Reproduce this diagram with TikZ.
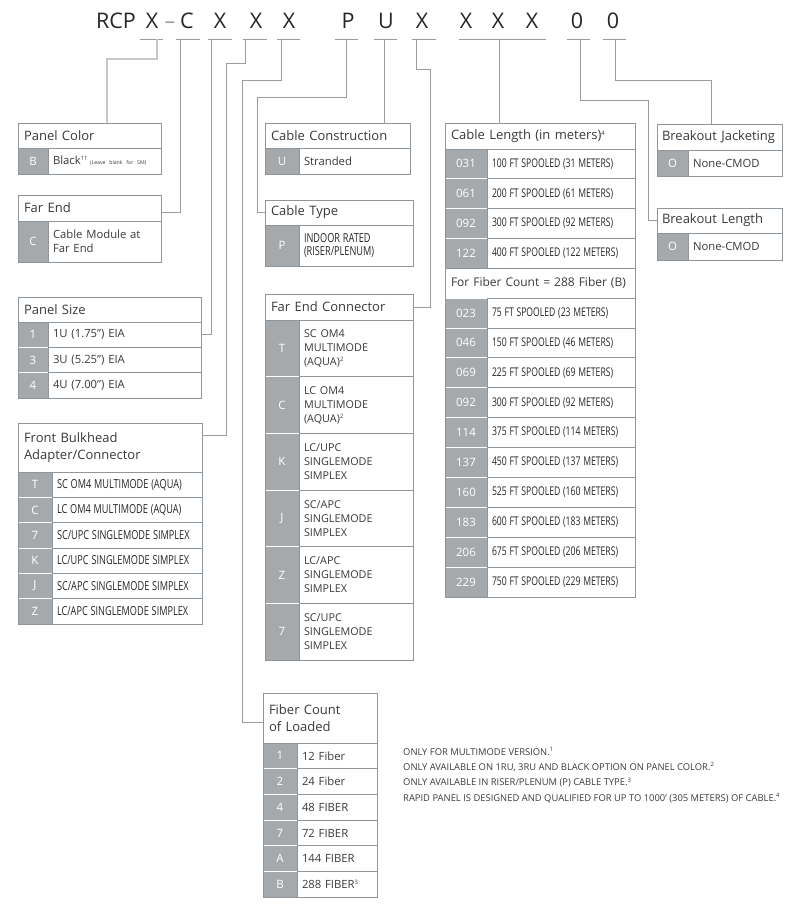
\documentclass[tikz,border=0pt]{standalone}
\usepackage{fontspec}
\usepackage{graphicx}
\setmainfont{Open Sans}
\definecolor{bcol}{HTML}{8E959B}
\definecolor{tcol}{HTML}{3A3A3A}
\definecolor{ccol}{HTML}{A6A9AC}
\definecolor{lcol}{HTML}{9C9C9C}
\definecolor{llcol}{HTML}{C8C8C8}
\newcommand\hdrf{\fontsize{13}{17}\selectfont}
\newcommand\itmf{\fontsize{11.3}{14}\selectfont}
\newcommand\cnd[1]{\scalebox{0.72}[1]{\fontsize{12}{14}\selectfont\color{black!85}#1}}
\newcommand\cndb[1]{\scalebox{0.74}[1]{\fontsize{12.4}{14}\selectfont\color{black!85}#1}}
\newcommand\codf{\fontsize{11.5}{14}\selectfont}
\newcommand\capf{\fontsize{10.8}{14}\selectfont}
\newcommand\notef{\fontsize{9.4}{15.3}\selectfont}
\newcommand\sups[1]{\textsuperscript{\fontsize{6}{6}\selectfont #1}}
\tikzset{
  codecell/.style={anchor=north west, inner sep=0pt, outer sep=0pt, fill=ccol, draw=white, line width=0.8pt, text=white, font=\codf},
  itemcell/.style={anchor=north west, inner xsep=5pt, inner ysep=0pt, outer sep=0pt, fill=white, draw=bcol, line width=0.8pt, text=tcol, align=left, font=\itmf},
  hdrcell/.style={anchor=north west, inner xsep=6pt, inner ysep=0pt, outer sep=0pt, fill=white, draw=bcol, line width=0.8pt, text=tcol, align=left, font=\hdrf},
  boxline/.style={draw=bcol, line width=0.9pt},
  link/.style={draw=lcol, line width=0.9pt},
  lightlink/.style={draw=llcol, line width=1.1pt},
  slot/.style={draw=lcol, line width=0.9pt},
  letter/.style={anchor=base, inner sep=0pt, text=black!85, font=\fontsize{21.5}{24}\selectfont},
}
% name x y codewidth totalwidth height code text
\newcommand\optrow[8]{%
  \pgfmathsetmacro\optw{#5-#4-10}%
  \node[codecell, minimum width=#4pt, minimum height=#6pt] (#1c) at (#2,#3) {#7};
  \node[itemcell, minimum height=#6pt, text width=\optw pt] (#1t) at (#2+#4,#3) {#8};
}
% name x y width height text
\newcommand\opthdr[6]{%
  \pgfmathsetmacro\optw{#4-12}%
  \node[hdrcell, minimum width=#4pt, minimum height=#5pt, text width=\optw pt] (#1) at (#2,#3) {#6};
}
\begin{document}
\begin{tikzpicture}[x=1pt,y=-1pt]
\useasboundingbox[fill=white] (0,0) rectangle (805,906);

% ---------- part number ----------
\node[letter] (hRCP) at (116,28) {RCP};
\node[letter] (hX1) at (152,28) {X};
\node[letter, text=lcol] (hDash) at (170,28) {–};
\node[letter] (hC) at (187,28) {C};
\node[letter] (hX2) at (220,28) {X};
\node[letter] (hX3) at (256,28) {X};
\node[letter] (hX4) at (289,28) {X};
\node[letter] (hP) at (348,28) {P};
\node[letter] (hU) at (386,28) {U};
\node[letter] (hX5) at (422,28) {X};
\node[letter] (hX6) at (466,28) {X};
\node[letter] (hX7) at (498,28) {X};
\node[letter] (hX8) at (532,28) {X};
\node[letter] (hZa) at (577,28) {0};
\node[letter] (hZb) at (613,28) {0};

% slot underlines
\coordinate (uX1a) at (140,39); \coordinate (uX1b) at (163,39);
\coordinate (uCa) at (176,39);  \coordinate (uCb) at (200,39);
\coordinate (uX2a) at (208,39); \coordinate (uX2b) at (232,39);
\coordinate (uX3a) at (243,39); \coordinate (uX3b) at (267,39);
\coordinate (uX4a) at (277,39); \coordinate (uX4b) at (300,39);
\coordinate (uPa) at (335,39);  \coordinate (uPb) at (358,39);
\coordinate (uUa) at (374,39);  \coordinate (uUb) at (397,39);
\coordinate (uX5a) at (412,39); \coordinate (uX5b) at (436,39);
\coordinate (uLa) at (459,39);  \coordinate (uLb) at (546,39);
\coordinate (uZaa) at (567,39); \coordinate (uZab) at (590,39);
\coordinate (uZba) at (603,39); \coordinate (uZbb) at (626,39);
\foreach \s in {X1,C,X2,X3,X4,P,U,X5,L,Za,Zb}
  \draw[slot] (u\s a) -- (u\s b);

% connector start points
\coordinate (sX1) at (157,39);
\coordinate (sC) at (180,39);
\coordinate (sX2) at (211,39);
\coordinate (sX3) at (245,39);
\coordinate (sX4) at (281,39);
\coordinate (sP) at (346,39);
\coordinate (sU) at (384,39);
\coordinate (sX5) at (416,39);
\coordinate (sL) at (499,39);
\coordinate (sZa) at (580,39);
\coordinate (sZb) at (615,39);
% turn points
\coordinate (kX1) at (107,59);
\coordinate (kX3) at (226,63);
\coordinate (kX4) at (242,80);
\coordinate (kP) at (257,97);
\coordinate (kX5) at (430,69);
\coordinate (kZa) at (648,100);
\coordinate (kZb) at (711,80);

% ---------- Panel Color ----------
\optrow{pc1}{18}{148}{30}{143}{26}{B}{Black\sups{11}\,{\fontsize{5.2}{6}\selectfont (Leave blank for SM)}}
\opthdr{pch}{18}{123}{143}{25}{Panel Color}
\draw[boxline] (pch.north west) rectangle (pc1t.south east);

% ---------- Far End ----------
\optrow{fe1}{18}{221}{30}{143}{41}{C}{Cable Module at\\Far End}
\opthdr{feh}{18}{195}{143}{26}{Far End}
\draw[boxline] (feh.north west) rectangle (fe1t.south east);

% ---------- Panel Size ----------
\optrow{ps1}{18}{322}{30}{183}{25.3}{1}{1U (1.75”) EIA}
\optrow{ps2}{18}{347.3}{30}{183}{25.3}{3}{3U (5.25”) EIA}
\optrow{ps3}{18}{372.6}{30}{183}{25.4}{4}{4U (7.00”) EIA}
\opthdr{psh}{18}{297}{183}{25}{Panel Size}
\draw[boxline] (psh.north west) rectangle (ps3t.south east);

% ---------- Front Bulkhead ----------
\optrow{fb1}{18}{472}{34}{184}{25.3}{T}{\cndb{SC OM4 MULTIMODE (AQUA)}}
\optrow{fb2}{18}{497.3}{34}{184}{25.3}{C}{\cndb{LC OM4 MULTIMODE (AQUA)}}
\optrow{fb3}{18}{522.6}{34}{184}{25.3}{7}{\cndb{SC/UPC SINGLEMODE SIMPLEX}}
\optrow{fb4}{18}{547.9}{34}{184}{25.3}{K}{\cndb{LC/UPC SINGLEMODE SIMPLEX}}
\optrow{fb5}{18}{573.2}{34}{184}{25.3}{J}{\cndb{SC/APC SINGLEMODE SIMPLEX}}
\optrow{fb6}{18}{598.5}{34}{184}{25.5}{Z}{\cndb{LC/APC SINGLEMODE SIMPLEX}}
\opthdr{fbh}{18}{423}{184}{49}{Front Bulkhead\\Adapter/Connector}
\draw[boxline] (fbh.north west) rectangle (fb6t.south east);

% ---------- Cable Construction ----------
\optrow{cc1}{265}{148}{34}{145}{26}{U}{Stranded}
\opthdr{cch}{265}{123}{145}{25}{Cable Construction}
\draw[boxline] (cch.north west) rectangle (cc1t.south east);

% ---------- Cable Type ----------
\optrow{ct1}{265}{225}{34}{148}{41}{P}{\cndb{INDOOR RATED}\\[-1pt]\cndb{(RISER/PLENUM)}}
\opthdr{cth}{265}{200}{148}{25}{Cable Type}
\draw[boxline] (cth.north west) rectangle (ct1t.south east);

% ---------- Far End Connector ----------
\optrow{fc1}{265}{320}{34}{148}{56.7}{T}{\capf SC OM4\\MULTIMODE\\(AQUA)\sups{2}}
\optrow{fc2}{265}{376.7}{34}{148}{56.7}{C}{\capf LC OM4\\MULTIMODE\\(AQUA)\sups{2}}
\optrow{fc3}{265}{433.4}{34}{148}{56.7}{K}{\capf LC/UPC\\SINGLEMODE\\SIMPLEX}
\optrow{fc4}{265}{490.1}{34}{148}{56.7}{J}{\capf SC/APC\\SINGLEMODE\\SIMPLEX}
\optrow{fc5}{265}{546.8}{34}{148}{56.6}{Z}{\capf LC/APC\\SINGLEMODE\\SIMPLEX}
\optrow{fc6}{265}{603.4}{34}{148}{56.6}{7}{\capf SC/UPC\\SINGLEMODE\\SIMPLEX}
\opthdr{fch}{265}{294}{148}{26}{Far End Connector}
\draw[boxline] (fch.north west) rectangle (fc6t.south east);

% ---------- Fiber Count ----------
\optrow{fn1}{263}{743}{34}{114}{25.7}{1}{12 Fiber}
\optrow{fn2}{263}{768.7}{34}{114}{25.7}{2}{24 Fiber}
\optrow{fn3}{263}{794.4}{34}{114}{25.7}{4}{48 FIBER}
\optrow{fn4}{263}{820.1}{34}{114}{25.7}{7}{72 FIBER}
\optrow{fn5}{263}{845.8}{34}{114}{25.6}{A}{144 FIBER}
\optrow{fn6}{263}{871.4}{34}{114}{25.6}{B}{288 FIBER\sups{3}}
\opthdr{fnh}{263}{693}{114}{50}{Fiber Count\\of Loaded}
\draw[boxline] (fnh.north west) rectangle (fn6t.south east);

% ---------- Cable Length ----------
\optrow{cl1}{445}{149}{42}{190}{29.75}{031}{\cnd{100 FT SPOOLED (31 METERS)}}
\optrow{cl2}{445}{178.75}{42}{190}{29.75}{061}{\cnd{200 FT SPOOLED (61 METERS)}}
\optrow{cl3}{445}{208.5}{42}{190}{29.75}{092}{\cnd{300 FT SPOOLED (92 METERS)}}
\optrow{cl4}{445}{238.25}{42}{190}{29.75}{122}{\cnd{400 FT SPOOLED (122 METERS)}}
\node[hdrcell, font=\fontsize{12}{14}\selectfont, minimum width=190pt, minimum height=30pt, text width=178pt] (clsub) at (445,268) {For Fiber Count = 288 Fiber (B)};
\optrow{cl5}{445}{298}{42}{190}{29.9}{023}{\cnd{75 FT SPOOLED (23 METERS)}}
\optrow{cl6}{445}{327.9}{42}{190}{29.9}{046}{\cnd{150 FT SPOOLED (46 METERS)}}
\optrow{cl7}{445}{357.8}{42}{190}{29.9}{069}{\cnd{225 FT SPOOLED (69 METERS)}}
\optrow{cl8}{445}{387.7}{42}{190}{29.9}{092}{\cnd{300 FT SPOOLED (92 METERS)}}
\optrow{cl9}{445}{417.6}{42}{190}{29.9}{114}{\cnd{375 FT SPOOLED (114 METERS)}}
\optrow{cl10}{445}{447.5}{42}{190}{29.9}{137}{\cnd{450 FT SPOOLED (137 METERS)}}
\optrow{cl11}{445}{477.4}{42}{190}{29.9}{160}{\cnd{525 FT SPOOLED (160 METERS)}}
\optrow{cl12}{445}{507.3}{42}{190}{29.9}{183}{\cnd{600 FT SPOOLED (183 METERS)}}
\optrow{cl13}{445}{537.2}{42}{190}{29.9}{206}{\cnd{675 FT SPOOLED (206 METERS)}}
\optrow{cl14}{445}{567.1}{42}{190}{29.9}{229}{\cnd{750 FT SPOOLED (229 METERS)}}
\opthdr{clh}{445}{123}{190}{26}{Cable Length (in meters)\sups{4}}
\draw[boxline] (clh.north west) rectangle (cl14t.south east);

% ---------- Breakout Jacketing ----------
\optrow{bj1}{657}{150}{31}{125}{26}{O}{None-CMOD}
\opthdr{bjh}{657}{124}{125}{26}{\mbox{\hspace{-1pt}Breakout Jacketing}}
\draw[boxline] (bjh.north west) rectangle (bj1t.south east);

% ---------- Breakout Length ----------
\optrow{bl1}{657}{233}{31}{125}{27}{O}{None-CMOD}
\opthdr{blh}{657}{208}{125}{25}{\mbox{\hspace{-1pt}Breakout Length}}
\draw[boxline] (blh.north west) rectangle (bl1t.south east);

% ---------- connectors ----------
\draw[lightlink] (sX1) |- (kX1) -- (kX1 |- pch.north);
\draw[link] (sC) |- ([yshift=-4pt]feh.east);
\draw[link] (sX2) |- (ps1t.east);
\draw[link] (sX3) |- (kX3) |- ([yshift=12.5pt]fbh.east);
\draw[link] (sX4) |- (kX4) |- ([yshift=-4pt]fnh.west);
\draw[link] (sP) |- (kP) |- (cth.west);
\draw[link] (sU) -- (sU |- cch.north);
\draw[link] (sX5) |- (kX5) |- (fch.east);
\draw[link] (sL) -- (sL |- clh.north);
\draw[link] (sZa) |- (kZa) |- (blh.west);
\draw[link] (sZb) |- (kZb) -- (kZb |- bjh.north);

% ---------- notes ----------
\node[anchor=north west, inner sep=0pt, align=left, text=tcol, font=\notef] (notes) at (403,747) {%
ONLY FOR MULTIMODE VERSION.\sups{1}\\
ONLY AVAILABLE ON 1RU, 3RU AND BLACK OPTION ON PANEL COLOR.\sups{2}\\
ONLY AVAILABLE IN RISER/PLENUM (P) CABLE TYPE.\sups{3}\\
RAPID PANEL IS DESIGNED AND QUALIFIED FOR UP TO 1000’ (305 METERS) OF CABLE.\sups{4}};
\end{tikzpicture}
\end{document}
